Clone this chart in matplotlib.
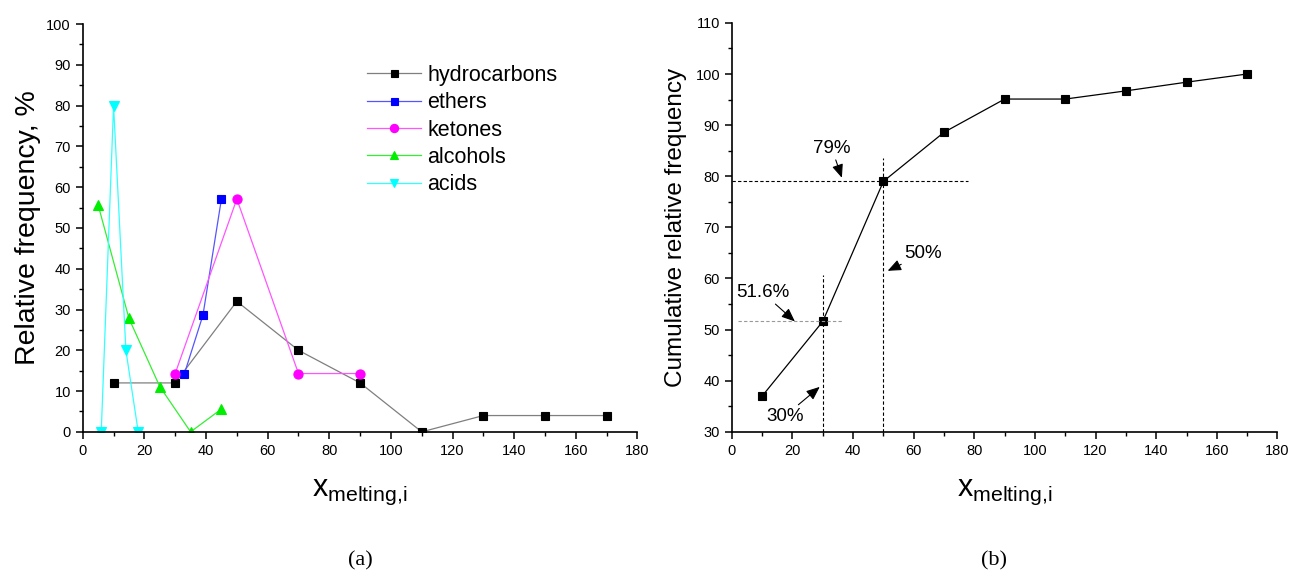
import matplotlib
matplotlib.use('Agg')
import matplotlib.pyplot as plt
from matplotlib.ticker import MultipleLocator

plt.rcParams['font.family'] = ['Liberation Sans', 'DejaVu Sans']
plt.rcParams['mathtext.fontset'] = 'custom'
plt.rcParams['mathtext.rm'] = 'Liberation Sans'

# (a) relative frequency by class
hc_x = [10, 30, 50, 70, 90, 110, 130, 150, 170]
hc_y = [12, 12, 32, 20, 12, 0, 4, 4, 4]
eth_x = [33, 39, 45]
eth_y = [14.3, 28.6, 57.1]
ket_x = [30, 50, 70, 90]
ket_y = [14.3, 57.1, 14.3, 14.3]
alc_x = [5, 15, 25, 35, 45]
alc_y = [55.6, 27.8, 11.1, 0, 5.6]
acid_x = [6, 10, 14, 18]
acid_y = [0, 80, 20, 0]

# (b) cumulative relative frequency
cum_x = [10, 30, 50, 70, 90, 110, 130, 150, 170]
cum_y = [37, 51.6, 79, 88.6, 95.1, 95.1, 96.7, 98.4, 100]

fig = plt.figure(figsize=(12.93, 5.72), dpi=100)
ax1 = fig.add_axes([0.064, 0.245, 0.429, 0.713])
ax2 = fig.add_axes([0.566, 0.245, 0.422, 0.715])


def style_axis(ax):
    for s in ['top', 'right']:
        ax.spines[s].set_visible(False)
    for s in ['left', 'bottom']:
        ax.spines[s].set_linewidth(1.2)
    ax.xaxis.set_minor_locator(MultipleLocator(10))
    ax.yaxis.set_minor_locator(MultipleLocator(5))
    ax.tick_params(which='major', direction='out', length=5, width=1.1, labelsize=10.5)
    ax.tick_params(which='minor', direction='out', length=3, width=1.0)


ms = 5.6
mew = 0.8
ax1.plot(hc_x, hc_y, color='#7f7f7f', lw=0.9, marker='s', ms=ms, mew=mew, mfc='black', mec='black', label='hydrocarbons')
ax1.plot(eth_x, eth_y, color='#5555ff', lw=0.9, marker='s', ms=ms, mew=mew, mfc='#0000ff', mec='#0000ff', label='ethers')
ax1.plot(ket_x, ket_y, color='#ff55ff', lw=0.9, marker='o', ms=ms + 1, mew=mew, mfc='#ff00ff', mec='#ff00ff', label='ketones')
ax1.plot(alc_x, alc_y, color='#33ee33', lw=0.9, marker='^', ms=ms + 1.5, mew=mew, mfc='#00ee00', mec='#00ee00', label='alcohols')
ax1.plot(acid_x, acid_y, color='#33ffff', lw=0.9, marker='v', ms=ms + 1.5, mew=mew, mfc='#00ffff', mec='#00ffff', label='acids')
ax1.set_xlim(0, 180)
ax1.set_ylim(0, 100)
ax1.xaxis.set_major_locator(MultipleLocator(20))
ax1.yaxis.set_major_locator(MultipleLocator(10))
style_axis(ax1)
ax1.set_ylabel('Relative frequency, %', fontsize=20.5, labelpad=4)
ax1.set_xlabel(r'$\mathregular{x_{melting{,}i}}$', fontsize=22, labelpad=14)
ax1.legend(loc='upper left', bbox_to_anchor=(0.478, 0.948), frameon=False, fontsize=15.5,
           handlelength=2.5, handletextpad=0.3, labelspacing=0.3, markerscale=0.9)

ax2.plot(cum_x, cum_y, color='black', lw=0.9, marker='s', ms=ms, mew=mew, mfc='black', mec='black')
ax2.set_xlim(0, 180)
ax2.set_ylim(30, 110)
ax2.xaxis.set_major_locator(MultipleLocator(20))
ax2.yaxis.set_major_locator(MultipleLocator(10))
style_axis(ax2)
ax2.set_ylabel('Cumulative relative frequency', fontsize=17.5, labelpad=6)
ax2.set_xlabel(r'$\mathregular{x_{melting{,}i}}$', fontsize=22, labelpad=14)

# guide lines
ax2.plot([0, 78], [79, 79], color='black', lw=0.8, ls=(0, (3, 2)))
ax2.plot([50, 50], [30, 83.5], color='black', lw=0.8, ls=(0, (3, 2)))
ax2.plot([30, 30], [30, 60.7], color='black', lw=0.8, ls=(0, (3, 2)))
ax2.plot([2, 36.5], [51.6, 51.6], color='#999999', lw=0.8, ls=(0, (3, 2)))

arrow = dict(arrowstyle='-|>,head_length=0.6,head_width=0.25', color='black', lw=0.8, shrinkA=0, shrinkB=0)
ax2.annotate('79%', xy=(36.3, 79.7), xytext=(33, 85.4), fontsize=13.5, ha='center', va='center', arrowprops=arrow)
ax2.annotate('50%', xy=(51.4, 61.5), xytext=(63, 64.8), fontsize=13.5, ha='center', va='center', arrowprops=arrow)
ax2.annotate('51.6%', xy=(20.8, 51.6), xytext=(10.2, 57.2), fontsize=13.5, ha='center', va='center', arrowprops=arrow)
ax2.annotate('30%', xy=(29, 38.8), xytext=(17.5, 33.1), fontsize=13.5, ha='center', va='center', arrowprops=arrow)

fig.text(0.279, 0.019, '(a)', fontsize=16, family='Liberation Serif', ha='center', va='center')
fig.text(0.769, 0.019, '(b)', fontsize=16, family='Liberation Serif', ha='center', va='center')

fig.savefig('out.png', dpi=100)
